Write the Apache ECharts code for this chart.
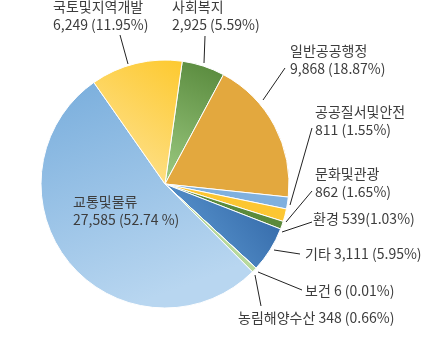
<!DOCTYPE html>
<html>
<head>
<meta charset="utf-8">
<script src="https://cdn.jsdelivr.net/npm/echarts@6/dist/echarts.min.js"></script>
<style>
html,body{margin:0;padding:0;background:#fff;}
#c{width:447px;height:355px;}
</style>
</head>
<body>
<div id="c"></div>
<script>
// Data (clockwise from the top)
const categories = ['사회복지', '일반공공행정', '공공질서및안전', '문화및관광', '환경', '기타', '보건', '농림해양수산', '교통및물류', '국토및지역개발'];
const values = [2925, 9868, 811, 862, 539, 3111, 6, 348, 27585, 6249];
const percents = ['5.59', '18.87', '1.55', '1.65', '1.03', '5.95', '0.01', '0.66', '52.74', '11.95'];

// Styling / layout (not data)
const labelMode = ['two', 'two', 'two', 'two', 'tight', 'one', 'one', 'one', 'twoInside', 'two'];
const labelPos = [[172, -2], [290, 42], [315, 103], [315, 165], [313, 219], [305, 254], [305, 291], [238, 318], [73, 193], [53, -2]];
const leaderLines = [
  [[204, 63], [205, 36]],
  [[263, 100], [285, 68]],
  [[290, 205], [312, 128]],
  [[286, 222], [312, 191]],
  [[282, 232], [312, 222]],
  [[274, 250], [300, 254]],
  [[258, 272], [302, 290]],
  [[255, 275], [261, 306]],
  null,
  [[128, 64], [120, 35]]
];
const G = echarts.graphic.LinearGradient;
const colors = [
  new G(1, 0, 0, 1, [{offset: 0, color: '#56873a'}, {offset: 1, color: '#9dcb82'}]),
  '#e3a83e',
  '#7fb0df',
  '#fcc632',
  '#5b8a3c',
  new G(1, 0, 0, 1, [{offset: 0, color: '#2f63a3'}, {offset: 1, color: '#62a0d8'}]),
  '#9dc3e6',
  '#b8d99c',
  new G(0, 0, 0.4, 1, [{offset: 0, color: '#78addc'}, {offset: 1, color: '#b8d6f0'}]),
  new G(1, 0, 0, 1, [{offset: 0, color: '#fdc92e'}, {offset: 1, color: '#fee59e'}])
];

function fmt(n) { return n.toLocaleString('en-US'); }
function labelText(i) {
  const n = categories[i], v = fmt(values[i]), p = percents[i];
  switch (labelMode[i]) {
    case 'two': return n + '\n' + v + ' (' + p + '%)';
    case 'twoInside': return n + '\n' + v + ' (' + p + ' %)';
    case 'tight': return n + ' ' + v + '(' + p + '%)';
    default: return n + ' ' + v + ' (' + p + '%)';
  }
}

const data = categories.map((name, i) => ({
  name: name,
  value: values[i],
  itemStyle: {color: colors[i]},
  labelLine: {show: leaderLines[i] !== null}
}));

const chart = echarts.init(document.getElementById('c'), null, {renderer: 'canvas'});
chart.setOption({
  animation: false,
  backgroundColor: '#ffffff',
  series: [{
    type: 'pie',
    center: [165, 184],
    radius: [0, 124],
    startAngle: 82,
    clockwise: true,
    avoidLabelOverlap: false,
    itemStyle: {borderColor: '#ffffff', borderWidth: 1},
    label: {
      show: true,
      position: 'outside',
      formatter: p => labelText(p.dataIndex),
      fontFamily: '"Noto Sans CJK KR", sans-serif',
      fontSize: 14,
      lineHeight: 18,
      color: '#3d3d3d'
    },
    labelLine: {show: true, lineStyle: {color: '#222', width: 1}},
    labelLayout: function (params) {
      const i = params.dataIndex;
      const pos = labelPos[i];
      const single = labelMode[i] === 'one' || labelMode[i] === 'tight';
      const out = {
        x: pos[0],
        y: pos[1],
        align: 'left',
        verticalAlign: single ? 'middle' : 'top',
        hideOverlap: false
      };
      if (leaderLines[i]) out.labelLinePoints = leaderLines[i];
      return out;
    },
    data: data
  }]
});
</script>
</body>
</html>
